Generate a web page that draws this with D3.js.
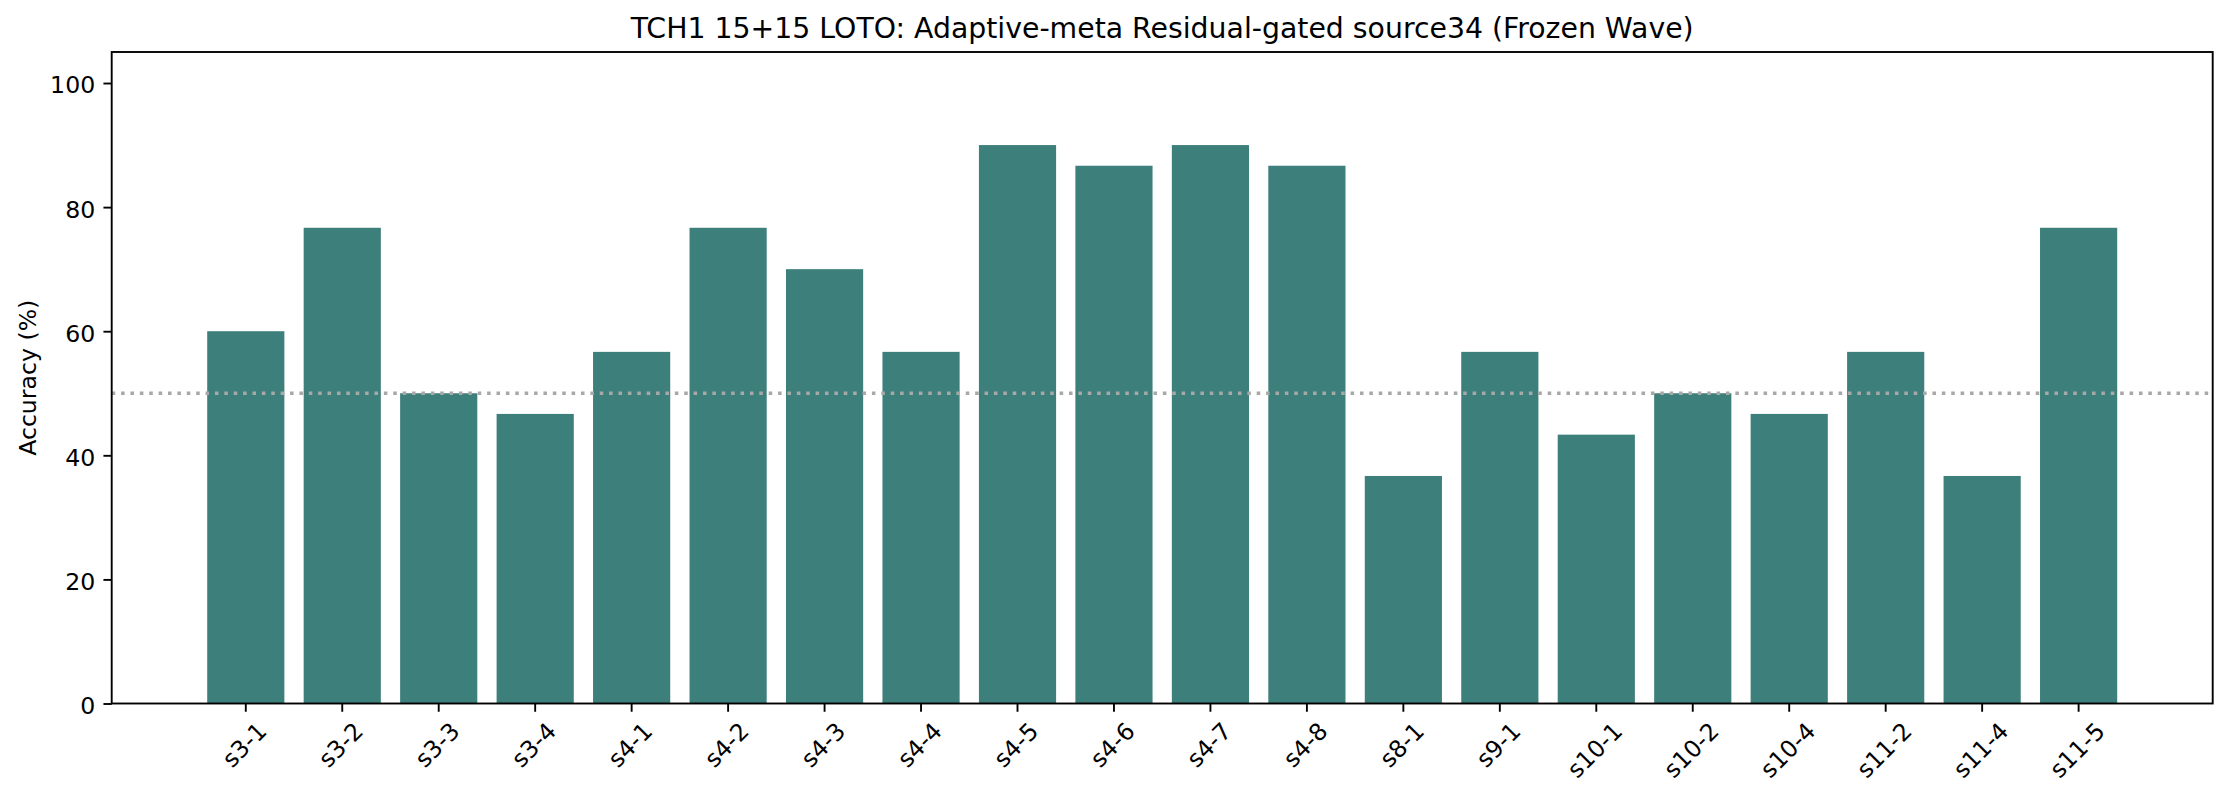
<!DOCTYPE html>
<html>
<head>
<meta charset="utf-8">
<script src="https://cdn.jsdelivr.net/npm/d3@7"></script>
<style>
  html, body { margin: 0; padding: 0; background: #fff; }
  svg { display: block; }
  text { font-family: "DejaVu Sans", sans-serif; fill: #000; }
</style>
</head>
<body>
<svg id="chart" width="2229" height="801"></svg>
<script>
const categories = ["s3-1","s3-2","s3-3","s3-4","s4-1","s4-2","s4-3","s4-4","s4-5","s4-6",
                    "s4-7","s4-8","s8-1","s9-1","s10-1","s10-2","s10-4","s11-2","s11-4","s11-5"];
const accuracy = [60.0, 76.67, 50.0, 46.67, 56.67, 76.67, 70.0, 56.67, 90.0, 86.67,
                  90.0, 86.67, 36.67, 56.67, 43.33, 50.0, 46.67, 56.67, 36.67, 76.67];
const yTicks = [0, 20, 40, 60, 80, 100];
const chanceLevel = 50;
const titleText = "TCH1 15+15 LOTO: Adaptive-meta Residual-gated source34 (Frozen Wave)";
const yLabelText = "Accuracy (%)";

const W = 2229, H = 801;
const L = 111.7, R = 2212.7, T = 52, B = 703.5;
const pt = 170 / 72;
const fs = 10 * pt;
const tickLen = 3.5 * pt, tickPad = 3.5 * pt;
const lw = 0.8 * pt;
const barColor = "#3d7f7b";

const svg = d3.select("#chart");

const x = d3.scaleBand().domain(categories).range([L, R]).paddingInner(0.2).paddingOuter(0.99);
const y = d3.scaleLinear().domain([0, 105]).range([B, T]);

// bars
svg.append("g").selectAll("rect").data(categories).join("rect")
  .attr("x", d => x(d))
  .attr("width", x.bandwidth())
  .attr("y", (d, i) => y(accuracy[i]))
  .attr("height", (d, i) => y(0) - y(accuracy[i]))
  .attr("fill", barColor);

// chance line
svg.append("line")
  .attr("x1", L).attr("x2", R)
  .attr("y1", y(chanceLevel)).attr("y2", y(chanceLevel))
  .attr("stroke", "#a8a8a8")
  .attr("stroke-width", 3.3)
  .attr("stroke-dasharray", `${1.5 * pt},${1.5 * 1.65 * pt}`);

// y axis
const yAxis = d3.axisLeft(y).tickValues(yTicks).tickSize(tickLen).tickPadding(tickPad);
const gy = svg.append("g").attr("transform", `translate(${L},0)`).call(yAxis);
gy.select(".domain").remove();
gy.selectAll(".tick line").attr("stroke", "#000").attr("stroke-width", lw);
gy.selectAll(".tick text")
  .attr("font-size", fs)
  .attr("font-family", "DejaVu Sans")
  .attr("dy", "0.42em")
  .attr("x", -(tickLen + tickPad));

// x axis
const xAxis = d3.axisBottom(x).tickSize(tickLen).tickFormat("");
const gx = svg.append("g").attr("transform", `translate(0,${B})`).call(xAxis);
gx.select(".domain").remove();
gx.selectAll(".tick line").attr("stroke", "#000").attr("stroke-width", lw);

// rotated x tick labels (matplotlib style: rotation 45, ha center, va top)
const c45 = Math.SQRT1_2;
const asc = 0.76 * fs, desc = 0.24 * fs;
const topY = B + tickLen + tickPad;
const gl = svg.append("g");
categories.forEach(cat => {
  const t = gl.append("text")
    .attr("font-size", fs)
    .attr("text-anchor", "middle")
    .text(cat);
  const w = t.node().getComputedTextLength();
  const cx = x(cat) + x.bandwidth() / 2 + (asc - desc) / 2 * c45;
  const cy = topY + (w / 2 + asc) * c45;
  t.attr("transform", `translate(${cx},${cy}) rotate(-45)`);
});

// frame
svg.append("rect")
  .attr("x", L).attr("y", T)
  .attr("width", R - L).attr("height", B - T)
  .attr("fill", "none")
  .attr("stroke", "#000")
  .attr("stroke-width", lw);

// title
svg.append("text")
  .attr("x", (L + R) / 2).attr("y", T - 6 * pt)
  .attr("text-anchor", "middle")
  .attr("font-size", 12 * pt)
  .text(titleText);

// y label
svg.append("text")
  .attr("transform", `translate(36,${(T + B) / 2}) rotate(-90)`)
  .attr("text-anchor", "middle")
  .attr("font-size", fs)
  .text(yLabelText);
</script>
</body>
</html>
